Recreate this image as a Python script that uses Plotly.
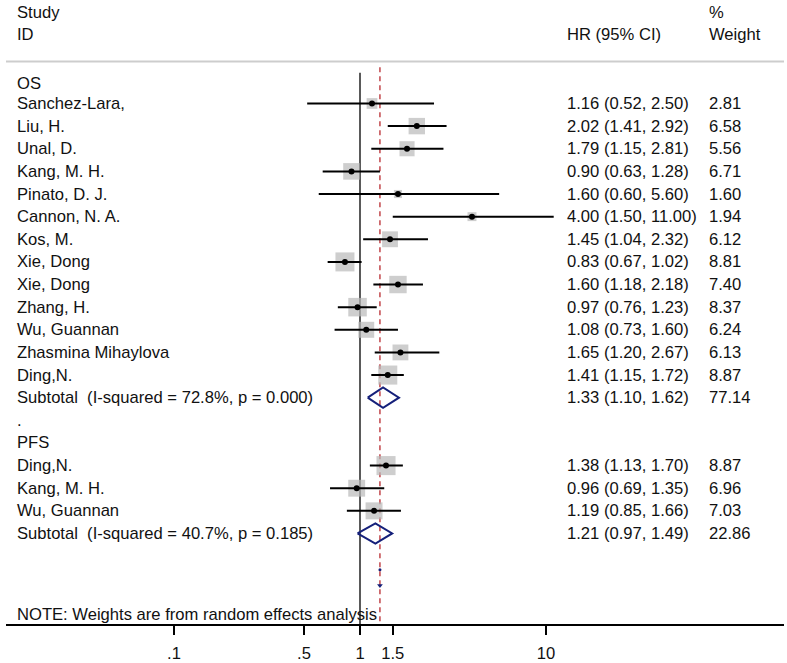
import math
import plotly.graph_objects as go

# ---------------- data ----------------
os_studies = ["Sanchez-Lara,", "Liu, H.", "Unal, D.", "Kang, M. H.", "Pinato, D. J.",
              "Cannon, N. A.", "Kos, M.", "Xie, Dong", "Xie, Dong", "Zhang, H.",
              "Wu, Guannan", "Zhasmina Mihaylova", "Ding,N."]
os_hr = [1.16, 2.02, 1.79, 0.90, 1.60, 4.00, 1.45, 0.83, 1.60, 0.97, 1.08, 1.65, 1.41]
os_lo = [0.52, 1.41, 1.15, 0.63, 0.60, 1.50, 1.04, 0.67, 1.18, 0.76, 0.73, 1.20, 1.15]
os_hi = [2.50, 2.92, 2.81, 1.28, 5.60, 11.00, 2.32, 1.02, 2.18, 1.23, 1.60, 2.67, 1.72]
os_w = [2.81, 6.58, 5.56, 6.71, 1.60, 1.94, 6.12, 8.81, 7.40, 8.37, 6.24, 6.13, 8.87]

pfs_studies = ["Ding,N.", "Kang, M. H.", "Wu, Guannan"]
pfs_hr = [1.38, 0.96, 1.19]
pfs_lo = [1.13, 0.69, 0.85]
pfs_hi = [1.70, 1.35, 1.66]
pfs_w = [8.87, 6.96, 7.03]

subtotal_hr = [1.33, 1.21]
subtotal_lo = [1.10, 0.97]
subtotal_hi = [1.62, 1.49]
subtotal_w = [77.14, 22.86]
subtotal_i2 = ["72.8%", "40.7%"]
subtotal_p = ["0.000", "0.185"]

overall_hr = 1.28

tick_vals = [0.1, 0.5, 1, 1.5, 10]
tick_text = [".1", ".5", "1", "1.5", "10"]

# ---------------- layout helpers ----------------
FONT = "Arial, 'Liberation Sans', Helvetica, sans-serif"
FS = 16.6
TXT = "#111111"
BOX = "#b9b9b9"
NAVY = "#15207a"
RED = "#b8292f"

W, H = 787, 663
ML, MR, MT, MB = 6, 3, 0, 36
plot_w = W - ML - MR


def px_to_paper(px):
    return (px - ML) / plot_w


X_NAME = px_to_paper(16)
X_HR = px_to_paper(566)
X_W = px_to_paper(708)

# rows
os_label_row = -0.9
os_rows = list(range(len(os_studies)))
os_sub_row = len(os_studies)
dot_row = os_sub_row + 1
pfs_label_row = dot_row + 1
pfs_rows = [pfs_label_row + 1 + i for i in range(len(pfs_studies))]
pfs_sub_row = pfs_rows[-1] + 1
sub_rows = [os_sub_row, pfs_sub_row]

fig = go.Figure()

# reference lines
fig.add_trace(go.Scatter(x=[1, 1], y=[-1.36, 23.5], mode="lines",
                         line=dict(color="black", width=1.3), hoverinfo="skip"))
fig.add_trace(go.Scatter(x=[overall_hr, overall_hr], y=[-1.6, 23.5], mode="lines",
                         line=dict(color=RED, width=1.3, dash="5px,4px"), hoverinfo="skip"))

all_hr = os_hr + pfs_hr
all_lo = os_lo + pfs_lo
all_hi = os_hi + pfs_hi
all_w = os_w + pfs_w
all_rows = os_rows + pfs_rows

# boxes
fig.add_trace(go.Scatter(x=all_hr, y=all_rows, mode="markers",
                         marker=dict(symbol="square", color=BOX,
                                     size=[6.4 * math.sqrt(w) for w in all_w],
                                     line=dict(width=0)),
                         hoverinfo="skip"))

# CI lines
cx, cy = [], []
for lo, hi, r in zip(all_lo, all_hi, all_rows):
    cx += [lo, hi, None]
    cy += [r, r, None]
fig.add_trace(go.Scatter(x=cx, y=cy, mode="lines", line=dict(color="black", width=2),
                         hoverinfo="skip"))

# point estimates
fig.add_trace(go.Scatter(x=all_hr, y=all_rows, mode="markers",
                         marker=dict(symbol="circle", color="black", size=6),
                         hoverinfo="skip"))

# subtotal diamonds
dx, dy = [], []
for hr, lo, hi, r in zip(subtotal_hr, subtotal_lo, subtotal_hi, sub_rows):
    dx += [lo, hr, hi, hr, lo, None]
    dy += [r, r - 0.45, r, r + 0.45, r, None]
fig.add_trace(go.Scatter(x=dx, y=dy, mode="lines", line=dict(color=NAVY, width=2),
                         hoverinfo="skip"))

# overall remnant marks
fig.add_trace(go.Scatter(x=[overall_hr], y=[20.6], mode="markers",
                         marker=dict(symbol="circle", size=3, color=NAVY),
                         hoverinfo="skip"))
fig.add_trace(go.Scatter(x=[overall_hr], y=[21.3], mode="markers",
                         marker=dict(symbol="triangle-down", size=5, color=NAVY),
                         hoverinfo="skip"))

annotations = []


def add_text(x, y, text):
    annotations.append(dict(x=x, y=y, xref="paper", yref="y", text=text,
                            xanchor="left", yanchor="middle", showarrow=False,
                            font=dict(family=FONT, size=FS, color=TXT),
                            borderpad=0))


# headers
add_text(X_NAME, -4.0, "Study")
add_text(X_NAME, -3.03, "ID")
add_text(X_HR, -3.03, "HR (95% CI)")
add_text(X_W, -4.0, "%")
add_text(X_W, -3.03, "Weight")

add_text(X_NAME, os_label_row, "OS")
add_text(X_NAME, dot_row, ".")
add_text(X_NAME, pfs_label_row, "PFS")

for names, hrs, los, his, ws, rows in [
    (os_studies, os_hr, os_lo, os_hi, os_w, os_rows),
    (pfs_studies, pfs_hr, pfs_lo, pfs_hi, pfs_w, pfs_rows),
]:
    for n, hr, lo, hi, w, r in zip(names, hrs, los, his, ws, rows):
        add_text(X_NAME, r, n)
        add_text(X_HR, r, f"{hr:.2f} ({lo:.2f}, {hi:.2f})")
        add_text(X_W, r, f"{w:.2f}")

for hr, lo, hi, w, i2, p, r in zip(subtotal_hr, subtotal_lo, subtotal_hi, subtotal_w,
                                   subtotal_i2, subtotal_p, sub_rows):
    add_text(X_NAME, r, f"Subtotal\u00a0 (I-squared = {i2}, p = {p})")
    add_text(X_HR, r, f"{hr:.2f} ({lo:.2f}, {hi:.2f})")
    add_text(X_W, r, f"{w:.2f}")

add_text(X_NAME, 22.6, "NOTE: Weights are from random effects analysis")

fig.update_layout(
    width=W, height=H,
    margin=dict(l=ML, r=MR, t=MT, b=MB),
    paper_bgcolor="white", plot_bgcolor="white",
    showlegend=False,
    annotations=annotations,
    shapes=[dict(type="line", xref="paper", yref="y", x0=0, x1=1, y0=-1.85, y1=-1.85,
                 line=dict(color="#cdcdcd", width=2))],
    xaxis=dict(type="log",
               range=[(ML - 360) / 186, (W - MR - 360) / 186],
               tickvals=tick_vals, ticktext=tick_text,
               showgrid=False, zeroline=False, showline=True,
               linecolor="black", linewidth=1.5,
               ticks="outside", ticklen=9, tickwidth=1.5, tickcolor="black",
               ticklabelstandoff=4,
               tickfont=dict(family=FONT, size=FS, color=TXT),
               fixedrange=True),
    yaxis=dict(range=[23.0, -4.573], visible=False, fixedrange=True),
)

fig.write_html("out.html", config={"displayModeBar": False},
               post_script="document.body.style.margin='0px';")
